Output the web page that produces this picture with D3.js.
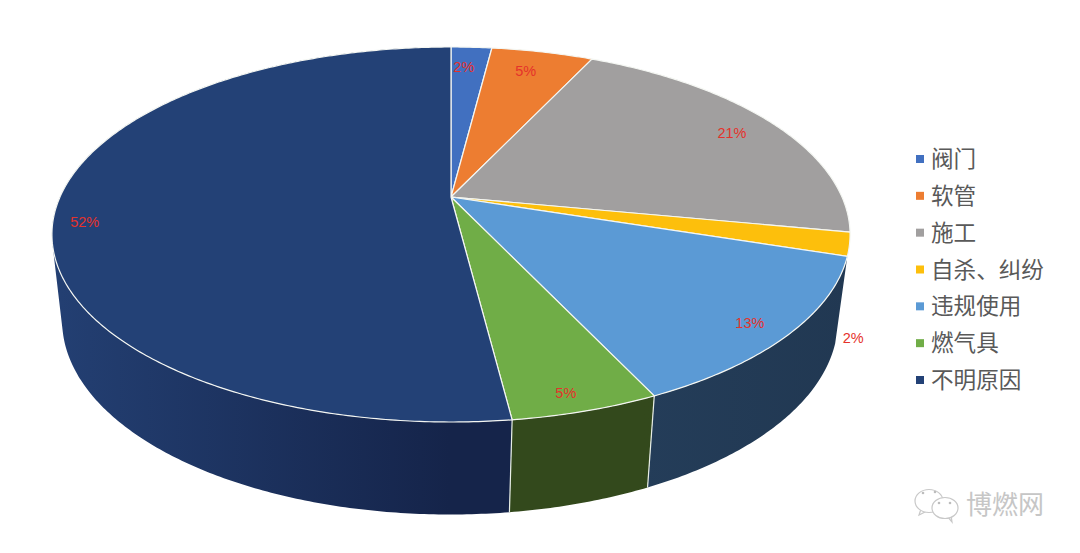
<!DOCTYPE html>
<html lang="zh">
<head>
    <meta charset="UTF-8">
    <script src="https://d3js.org/d3.v7.min.js"></script>
    <title>pie</title>
    <style>
        html, body { margin: 0; padding: 0; background: #fff; }
        svg { display: block; }
    </style>
</head>
<body>
    <svg></svg>
    <script>
        const categories = ['阀门', '软管', '施工', '自杀、纠纷', '违规使用', '燃气具', '不明原因'];
        const values = [2, 5, 21, 2, 13, 5, 52];
        const colors = ['#4170c0', '#ed7d31', '#a19f9f', '#fdbf0c', '#5b9ad5', '#70ad47', '#234176'];
        const sideFrom = ['#24426f', '#24426f', '#24426f', '#24426f', '#243d59', '#33491c', '#233f72'];
        const sideTo = ['#24426f', '#24426f', '#24426f', '#24426f', '#213852', '#33471b', '#15244a'];

        const svg = d3.select('svg').attr('width', 1080).attr('height', 553);

        // 透视的圆盘：上表面和下表面各一组参数
        const topDisk = { cx: 451, y0: 197, a: 391, b: 180, k: 0.2 };
        const bottomDisk = { cx: 450, y0: 282, a: 380, b: 186, k: 0.2 };

        function project(disk, angle, r) {
            const u = Math.sin(angle) * r;
            const v = -Math.cos(angle) * r;
            const d = 1 - disk.k * v;
            return [disk.cx + disk.a * u / d, disk.y0 + disk.b * v / d];
        }

        function arcPoints(disk, start, end) {
            const n = Math.max(2, Math.ceil((end - start) / 0.01));
            return d3.range(n + 1).map(i => project(disk, start + (end - start) * i / n, 1));
        }

        const pieData = d3.pie().sort(null).value(d => d)(values);
        const line = d3.line().curve(d3.curveLinearClosed);

        // 侧面由很多小四边形拼成，统一绕向，这样左边的轮廓才是切线
        function sidePath(d) {
            const upper = arcPoints(topDisk, d.startAngle, d.endAngle);
            const lower = arcPoints(bottomDisk, d.startAngle, d.endAngle);
            return d3.range(upper.length - 1).map(i => {
                const quad = [upper[i], upper[i + 1], lower[i + 1], lower[i]];
                return line(d3.polygonArea(quad) < 0 ? quad.reverse() : quad);
            }).join('');
        }

        const defs = svg.append('defs');
        pieData.forEach((d, i) => {
            const grad = defs.append('linearGradient')
                .attr('id', 'side' + i)
                .attr('gradientUnits', 'userSpaceOnUse')
                .attr('x1', i === 6 ? 60 : 640).attr('x2', i === 6 ? 450 : 850)
                .attr('y1', 0).attr('y2', 0);
            grad.append('stop').attr('offset', 0).attr('stop-color', sideFrom[i]);
            grad.append('stop').attr('offset', 1).attr('stop-color', sideTo[i]);
        });

        // 侧面，只画看得见的（中线过了 120 度）
        const front = pieData.filter(d => (d.startAngle + d.endAngle) / 2 > Math.PI * 2 / 3);
        svg.append('g').selectAll('path')
            .data(front)
            .enter()
            .append('path')
            .attr('d', sidePath)
            .attr('fill', d => `url(#side${d.index})`);

        // 侧面之间的白线
        svg.append('g').selectAll('line')
            .data(front.slice(1))
            .enter()
            .append('line')
            .attr('x1', d => project(topDisk, d.startAngle, 1)[0])
            .attr('y1', d => project(topDisk, d.startAngle, 1)[1])
            .attr('x2', d => project(bottomDisk, d.startAngle, 1)[0])
            .attr('y2', d => project(bottomDisk, d.startAngle, 1)[1])
            .attr('stroke', '#e8eee6')
            .attr('stroke-width', 1.2);

        // 上表面
        svg.append('g').selectAll('path')
            .data(pieData)
            .enter()
            .append('path')
            .attr('d', d => line([[topDisk.cx, topDisk.y0]].concat(arcPoints(topDisk, d.startAngle, d.endAngle))))
            .attr('fill', (d, i) => colors[i])
            .attr('stroke', '#f4f6f2')
            .attr('stroke-width', 1.2)
            .attr('stroke-linejoin', 'round');

        // 百分比文字
        const labelShift = [[-5, 0], [-5, 0], [6, 0], [66, 101], [18, 12], [4, 20], [-31, 15]];
        svg.append('g').selectAll('text')
            .data(pieData)
            .enter()
            .append('text')
            .text(d => d.value + '%')
            .attr('x', (d, i) => project(topDisk, (d.startAngle + d.endAngle) / 2, 0.85)[0] + labelShift[i][0])
            .attr('y', (d, i) => project(topDisk, (d.startAngle + d.endAngle) / 2, 0.85)[1] + labelShift[i][1])
            .attr('dy', '0.35em')
            .attr('text-anchor', 'middle')
            .attr('font-family', '"Liberation Sans", Arial, sans-serif')
            .attr('font-size', 14.5)
            .attr('fill', '#e5322b');

        // 图例
        const legendY = d3.scalePoint().domain(categories).range([159, 380]);
        const legend = svg.append('g').selectAll('g')
            .data(categories)
            .enter()
            .append('g')
            .attr('transform', d => `translate(916, ${legendY(d)})`);
        legend.append('rect')
            .attr('x', 0).attr('y', -4).attr('width', 8).attr('height', 8)
            .attr('fill', (d, i) => colors[i]);
        legend.append('text')
            .text(d => d)
            .attr('x', 15)
            .attr('dy', '0.36em')
            .attr('font-family', '"Noto Sans CJK SC", sans-serif')
            .attr('font-size', 22.6)
            .attr('fill', '#595959');

        // 水印
        const mark = svg.append('g').attr('fill', '#fff').attr('stroke', '#c8c8c8').attr('stroke-width', 1.2);
        mark.append('path').attr('d', 'M921 509 L919 515 L927 511');
        mark.append('ellipse').attr('cx', 929).attr('cy', 501).attr('rx', 14).attr('ry', 11.5);
        mark.append('path').attr('d', 'M947 516 L952 522 L951 515');
        mark.append('ellipse').attr('cx', 945).attr('cy', 508).attr('rx', 13).attr('ry', 10.5);
        mark.selectAll('circle')
            .data([[923, 493], [935, 492], [939, 503], [950, 503]])
            .enter()
            .append('circle')
            .attr('cx', d => d[0]).attr('cy', d => d[1]).attr('r', 1.3)
            .attr('fill', '#bdbdbd').attr('stroke', 'none');
        svg.append('text')
            .text('博燃网')
            .attr('x', 966).attr('y', 514)
            .attr('font-family', '"Noto Sans CJK SC", sans-serif')
            .attr('font-size', 26)
            .attr('fill', '#c6c6c6');
    </script>
</body>
</html>
